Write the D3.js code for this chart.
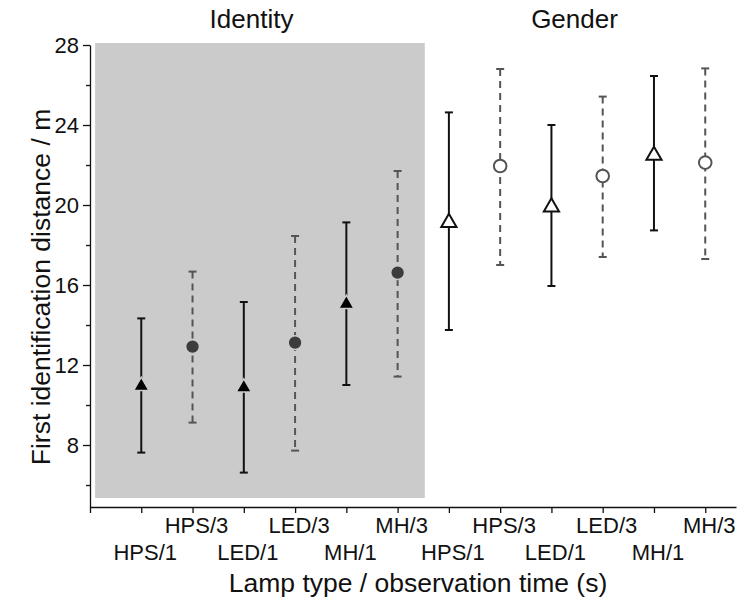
<!DOCTYPE html>
<html>
<head>
<meta charset="utf-8">
<script src="https://cdn.jsdelivr.net/npm/d3@7"></script>
<style>
  body { margin: 0; background: #fff; }
  svg text { font-family: "Liberation Sans", Arial, sans-serif; fill: #111; }
</style>
</head>
<body>
<div id="chart"></div>
<script>
// Data
const lampLabels = ["HPS/1", "HPS/3", "LED/1", "LED/3", "MH/1", "MH/3"];
const panels = ["Identity", "Gender"];

const identityMean  = [11.0, 12.92, 10.92, 13.12, 15.1, 16.62];
const identityUpper = [14.33, 16.67, 15.15, 18.45, 19.13, 21.7];
const identityLower = [7.62, 9.12, 6.62, 7.72, 11.0, 11.42];

const genderMean  = [19.17, 21.95, 19.95, 21.45, 22.53, 22.12];
const genderUpper = [24.63, 26.8, 24.0, 25.42, 26.45, 26.83];
const genderLower = [13.75, 17.0, 15.95, 17.4, 18.73, 17.3];

const yMajorTicks = [8, 12, 16, 20, 24, 28];
const yMinorTicks = [6, 10, 14, 18, 22, 26];

const width = 737;
const height = 599;

const x = d3.scaleLinear().domain([0, 12.6]).range([90, 736]);
const y = d3.scaleLinear().domain([4.9, 28]).range([507, 45]);

// flatten into one list of points
const points = [];
panels.forEach((panel, p) => {
    const mean = p === 0 ? identityMean : genderMean;
    const up = p === 0 ? identityUpper : genderUpper;
    const lo = p === 0 ? identityLower : genderLower;
    lampLabels.forEach((lab, i) => {
        points.push({
            panel: panel,
            label: lab,
            pos: p * 6 + i + 1,
            time: i % 2 === 0 ? 1 : 3,
            mean: mean[i],
            upper: up[i],
            lower: lo[i]
        });
    });
});

const svg = d3.select("#chart")
    .append("svg")
    .attr("width", width)
    .attr("height", height);

// Grey background for identity panel
svg.append("rect")
    .attr("x", x(0.1))
    .attr("y", y(28.1))
    .attr("width", x(6.53) - x(0.1))
    .attr("height", y(5.35) - y(28.1))
    .attr("fill", "#cbcbcb");

// Panel titles
svg.selectAll(".panel-title")
    .data(panels)
    .enter()
    .append("text")
    .attr("class", "panel-title")
    .attr("x", (d, i) => x(i * 6.3 + 3.15))
    .attr("y", 28)
    .attr("text-anchor", "middle")
    .style("font-size", "26px")
    .text(d => d);

// Y axis
const yAxis = svg.append("g")
    .attr("transform", `translate(${x(0)},0)`)
    .call(d3.axisLeft(y).tickValues(yMajorTicks).tickSize(7).tickSizeOuter(0).tickPadding(4));

svg.append("g")
    .attr("transform", `translate(${x(0)},0)`)
    .call(d3.axisLeft(y).tickValues(yMinorTicks).tickSize(4).tickFormat(""))
    .select(".domain").remove();

yAxis.selectAll("text")
    .style("font-size", "22px")
    .attr("font-family", null);

// X axis
const xAxis = svg.append("g")
    .attr("transform", `translate(0,${y(4.9)})`)
    .call(d3.axisBottom(x).tickValues(d3.range(0, 13)).tickSize(6).tickSizeOuter(0).tickFormat(""));

svg.selectAll("g .domain, g .tick line")
    .attr("stroke", "#111")
    .attr("stroke-width", 1.3);

// X tick labels: /1 on the lower row, /3 on the upper row
svg.selectAll(".xlab")
    .data(points)
    .enter()
    .append("text")
    .attr("class", "xlab")
    .attr("x", d => x(d.pos) + 4)
    .attr("y", d => d.time === 3 ? 533 : 560)
    .attr("text-anchor", "middle")
    .style("font-size", "22px")
    .text(d => d.label);

// Axis titles
svg.append("text")
    .attr("x", 418)
    .attr("y", 592)
    .attr("text-anchor", "middle")
    .style("font-size", "26.5px")
    .text("Lamp type / observation time (s)");

svg.append("text")
    .attr("transform", "translate(50,287) rotate(-90)")
    .attr("text-anchor", "middle")
    .style("font-size", "26.5px")
    .text("First identification distance / m");

// Error bars
const capW = 4;
const bars = svg.selectAll(".err")
    .data(points)
    .enter()
    .append("g")
    .attr("class", "err")
    .attr("stroke", d => d.time === 1 ? "#111" : "#555")
    .attr("stroke-width", 2);

bars.append("line")
    .attr("x1", d => x(d.pos))
    .attr("x2", d => x(d.pos))
    .attr("y1", d => y(d.upper))
    .attr("y2", d => y(d.lower))
    .attr("stroke-dasharray", d => d.time === 1 ? null : "7,5");

bars.append("line")
    .attr("x1", d => x(d.pos) - capW)
    .attr("x2", d => x(d.pos) + capW)
    .attr("y1", d => y(d.upper))
    .attr("y2", d => y(d.upper));

bars.append("line")
    .attr("x1", d => x(d.pos) - capW)
    .attr("x2", d => x(d.pos) + capW)
    .attr("y1", d => y(d.lower))
    .attr("y2", d => y(d.lower));

// Markers
const tri = d3.symbol().type(d3.symbolTriangle);
const circ = d3.symbol().type(d3.symbolCircle);

svg.selectAll(".marker")
    .data(points)
    .enter()
    .append("path")
    .attr("class", "marker")
    .attr("transform", d => `translate(${x(d.pos)},${y(d.mean) + (d.time === 1 ? 1 : 0)})`)
    .attr("d", d => d.time === 1 ? tri.size(d.panel === "Identity" ? 100 : 100)() : circ.size(d.panel === "Identity" ? 150 : 125)())
    .attr("fill", d => d.panel === "Identity" ? (d.time === 1 ? "#000" : "#3c3c3c") : "#fff")
    .attr("stroke", d => d.panel === "Identity" ? "#cbcbcb" : (d.time === 1 ? "#111" : "#555"))
    .attr("stroke-width", d => d.panel === "Identity" ? 1.5 : 2);
</script>
</body>
</html>
